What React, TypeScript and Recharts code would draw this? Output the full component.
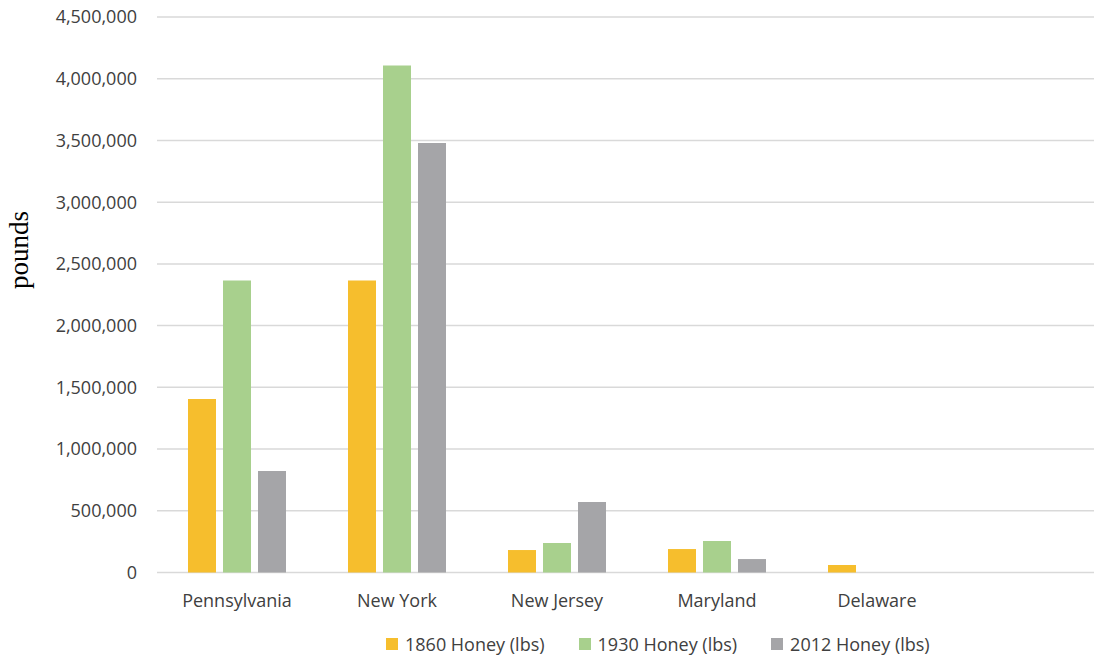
import { BarChart, Bar, XAxis, YAxis, CartesianGrid } from "recharts";

const states = ["Pennsylvania", "New York", "New Jersey", "Maryland", "Delaware", ""];
const honey1860 = [1405000, 2365000, 182000, 190000, 61000, null];
const honey1930 = [2365000, 4108000, 239000, 255000, null, null];
const honey2012 = [822000, 3479000, 571000, 109000, null, null];
const yTicks = [0, 500000, 1000000, 1500000, 2000000, 2500000, 3000000, 3500000, 4000000, 4500000];

const series = [
  { key: "h1860", name: "1860 Honey (lbs)", color: "#F6BE2D" },
  { key: "h1930", name: "1930 Honey (lbs)", color: "#A8D08D" },
  { key: "h2012", name: "2012 Honey (lbs)", color: "#A5A5A8" },
];

const data = states.map((state, i) => ({
  state,
  h1860: honey1860[i],
  h1930: honey1930[i],
  h2012: honey2012[i],
}));

const font = "'Open Sans', sans-serif";
const textColor = "#404040";

const PoundsLabel = () => (
  <text
    x={28}
    y={250}
    transform="rotate(-90 28 250)"
    textAnchor="middle"
    fontFamily="'Liberation Serif', serif"
    fontSize={27}
    fill="#000"
  >
    pounds
  </text>
);

export default function App() {
  return (
    <div
      style={{
        position: "absolute",
        left: 0,
        top: 0,
        width: 1094,
        height: 658,
        overflow: "hidden",
        background: "#fff",
      }}
    >
      <BarChart
        width={1117}
        height={658}
        data={data}
        margin={{ top: 17, right: 0, left: 0, bottom: 0 }}
        barSize={28}
        barGap={7}
      >
        <CartesianGrid vertical={false} stroke="#d9d9d9" strokeWidth={1.5} />
        <XAxis
          dataKey="state"
          height={85.5}
          tickLine={false}
          axisLine={false}
          tickSize={0}
          tickMargin={22}
          interval={0}
          tick={{ fontFamily: font, fontSize: 18, fill: textColor }}
        />
        <YAxis
          width={157}
          domain={[0, 4500000]}
          ticks={yTicks}
          tickLine={false}
          axisLine={false}
          tickSize={0}
          tickMargin={20}
          tickFormatter={(v: number) => v.toLocaleString("en-US")}
          tick={{ fontFamily: font, fontSize: 18, fill: textColor }}
          label={<PoundsLabel />}
        />
        {series.map((s) => (
          <Bar key={s.key} dataKey={s.key} name={s.name} fill={s.color} isAnimationActive={false} />
        ))}
      </BarChart>
      <div
        style={{
          position: "absolute",
          left: 386,
          top: 631,
          display: "flex",
          alignItems: "center",
          fontFamily: font,
          fontSize: 18,
          color: textColor,
          lineHeight: "26px",
          whiteSpace: "nowrap",
        }}
      >
        {series.map((s) => (
          <div key={s.key} style={{ display: "flex", alignItems: "center", marginRight: 34 }}>
            <span style={{ width: 12, height: 12, background: s.color, marginRight: 7, display: "inline-block" }} />
            <span>{s.name}</span>
          </div>
        ))}
      </div>
    </div>
  );
}
